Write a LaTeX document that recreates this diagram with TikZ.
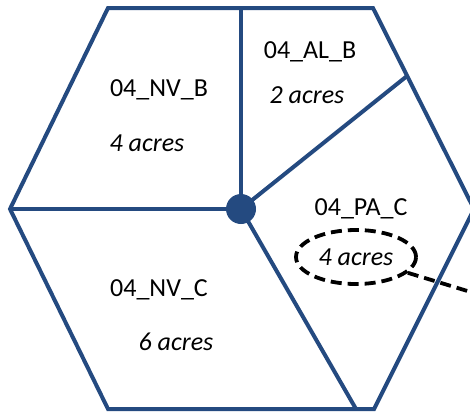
\documentclass[tikz,border=0pt]{standalone}
\usepackage{fontspec}
\setmainfont{Carlito}
\usetikzlibrary{shapes.geometric}
\definecolor{plotblue}{RGB}{36,74,128}
\tikzset{
  plotline/.style={line width=4pt,color=plotblue,line join=miter},
  plotname/.style={font=\fontsize{26}{30}\selectfont,inner sep=0pt},
  plotarea/.style={font=\fontsize{26}{30}\selectfont\itshape,inner sep=0pt},
  linkline/.style={line width=3.8pt,dash pattern=on 11pt off 6pt,color=black},
}

\begin{document}
\begin{tikzpicture}[x=1pt,y=-1pt]
\useasboundingbox (0,0) rectangle (470,413);
\clip (0,0) rectangle (470,413);
\coordinate (tl) at (108,8);
\coordinate (tr) at (373,8);
\coordinate (r) at (474,209);
\coordinate (br) at (374,409);
\coordinate (bl) at (108,409);
\coordinate (l) at (10,209);
\coordinate (top) at (241,8);
\coordinate (ne) at (407,76);
\coordinate (s) at (356,409);
\coordinate (exit) at (474,293);
\draw[plotline](tl)--(tr)--(r)--(br)--(bl)--(l)--cycle;
\draw[plotline](241,209)--(top);
\draw[plotline](241,209)--(l);
\draw[plotline](241,209)--(ne);
\draw[plotline](241,209)--(s);
\node[circle,fill=plotblue,minimum size=30pt,inner sep=0pt] (hub) at (241,209) {};
\node[plotname] (nvb) at (159,90) {04\_NV\_B};
\node[plotarea] (nvbarea) at (147,143) {4 acres};
\node[plotname] (alb) at (310,52) {04\_AL\_B};
\node[plotarea] (albarea) at (307,95) {2 acres};
\node[plotname] (pac) at (361,209) {04\_PA\_C};
\node[plotarea,ellipse,draw,linkline,minimum width=120pt,minimum height=54pt] (pacarea) at (356,257) {4 acres};
\node[plotname] (nvc) at (159,290) {04\_NV\_C};
\node[plotarea] (nvcarea) at (176,342) {6 acres};
\draw[linkline](pacarea)--(exit);
\end{tikzpicture}
\end{document}
